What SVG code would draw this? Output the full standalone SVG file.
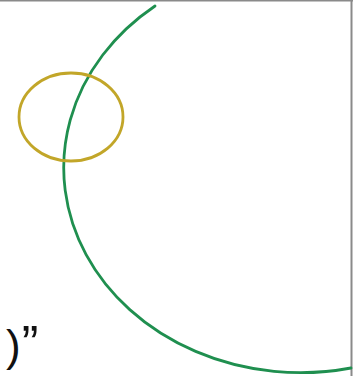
<svg xmlns="http://www.w3.org/2000/svg" width="354" height="376" viewBox="0 0 354 376">
<style>
.big{fill:none;stroke:#1f8f4f;stroke-width:2.8;stroke-linecap:round}
.small{fill:none;stroke:#c2a629;stroke-width:2.8}
.frame{stroke:#8a8a8a;stroke-width:2;fill:none}
.t{font-family:"Liberation Sans",Arial,sans-serif;font-size:44px;fill:#111}
.q{font-size:50px}
</style>
<rect width="354" height="376" fill="#ffffff"/>
<g id="frame">
<line class="frame" x1="0" y1="0.5" x2="353" y2="0.5"/>
<line class="frame" x1="351.5" y1="0" x2="351.5" y2="376"/>
</g>
<g id="large-circle">
<path class="big" d="M155,6 A237,205 0 0,0 351,368"/>
</g>
<g id="small-circle">
<ellipse class="small" cx="71" cy="117" rx="52" ry="44"/>
</g>
<g id="label">
<text class="t" x="6" y="361">)<tspan class="q" dx="1">”</tspan></text>
</g>
</svg>
